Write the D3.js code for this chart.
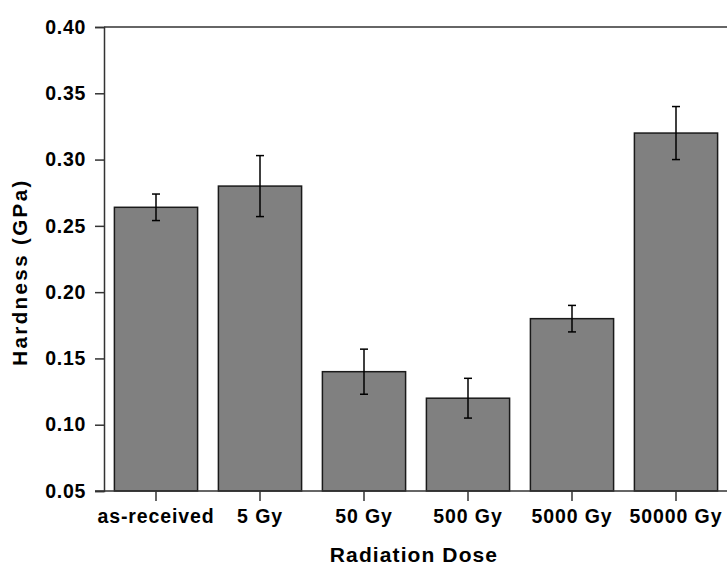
<!DOCTYPE html>
<html><head><meta charset="utf-8">
<script src="https://cdn.jsdelivr.net/npm/d3@7"></script>
<style>body{margin:0;background:#fff}svg{display:block}text{font-family:"Liberation Sans",Arial,sans-serif;font-weight:bold;fill:#000}</style>
</head><body>
<svg id="c" width="727" height="565"></svg>
<script>
const categories = ["as-received","5 Gy","50 Gy","500 Gy","5000 Gy","50000 Gy"];
const hardness = [0.264, 0.280, 0.140, 0.120, 0.180, 0.320];
const errors = [0.010, 0.023, 0.017, 0.015, 0.010, 0.020];
const yTicks = [0.05,0.10,0.15,0.20,0.25,0.30,0.35,0.40];

const svg = d3.select("#c");
const L=104, R=728, T=27, B=491;
const x = d3.scaleBand().domain(categories).range([L,R]).paddingInner(0.2).paddingOuter(0.1);
const y = d3.scaleLinear().domain([0.05,0.40]).range([B,T]);

// bars
svg.selectAll("rect.bar").data(categories).enter().append("rect")
  .attr("x", d=>x(d)).attr("width", x.bandwidth())
  .attr("y", (d,i)=>y(hardness[i])).attr("height",(d,i)=>B-y(hardness[i]))
  .attr("fill","#808080").attr("stroke","#1a1a1a").attr("stroke-width",1.5);

// error bars
const eg = svg.append("g").attr("stroke","#000").attr("stroke-width",1.5);
categories.forEach((c,i)=>{
  const cx = x(c)+x.bandwidth()/2;
  const y1=y(hardness[i]+errors[i]), y2=y(hardness[i]-errors[i]);
  eg.append("line").attr("x1",cx).attr("x2",cx).attr("y1",y1).attr("y2",y2);
  eg.append("line").attr("x1",cx-4).attr("x2",cx+4).attr("y1",y1).attr("y2",y1);
  eg.append("line").attr("x1",cx-4).attr("x2",cx+4).attr("y1",y2).attr("y2",y2);
});

// frame top & right
svg.append("line").attr("x1",L).attr("x2",R).attr("y1",T).attr("y2",T).attr("stroke","#333").attr("stroke-width",1.5);
svg.append("line").attr("x1",R).attr("x2",R).attr("y1",T).attr("y2",B).attr("stroke","#333").attr("stroke-width",1.5);

// y axis
const ya = svg.append("g").attr("transform",`translate(${L},0)`)
  .call(d3.axisLeft(y).tickValues(yTicks).tickFormat(d3.format(".2f")).tickSize(9).tickPadding(9));
ya.select(".domain").attr("stroke","#333").attr("stroke-width",1.5);
ya.selectAll(".tick line").attr("stroke","#333").attr("stroke-width",1.5);
ya.selectAll(".tick text").attr("font-size",19.5).style("letter-spacing","0.7px").attr("fill","#000").attr("font-family",null);

// x axis
const xa = svg.append("g").attr("transform",`translate(0,${B})`)
  .call(d3.axisBottom(x).tickSize(10).tickPadding(8).tickSizeOuter(0));
xa.select(".domain").attr("stroke","#333").attr("stroke-width",1.5).attr("d",`M${L-9},0H${R}`);
xa.selectAll(".tick line").attr("stroke","#333").attr("stroke-width",1.5);
xa.selectAll(".tick text").attr("font-size",19.5).style("letter-spacing","0.9px").attr("fill","#000").attr("font-family",null);

// titles
svg.append("text").attr("x",414).attr("y",562).attr("text-anchor","middle")
  .attr("font-size",21).style("letter-spacing","1.1px").text("Radiation Dose");
svg.append("text").attr("transform","translate(27,272) rotate(-90)").attr("text-anchor","middle")
  .attr("font-size",20.5).style("letter-spacing","2.4px").text("Hardness (GPa)");
</script>
</body></html>
